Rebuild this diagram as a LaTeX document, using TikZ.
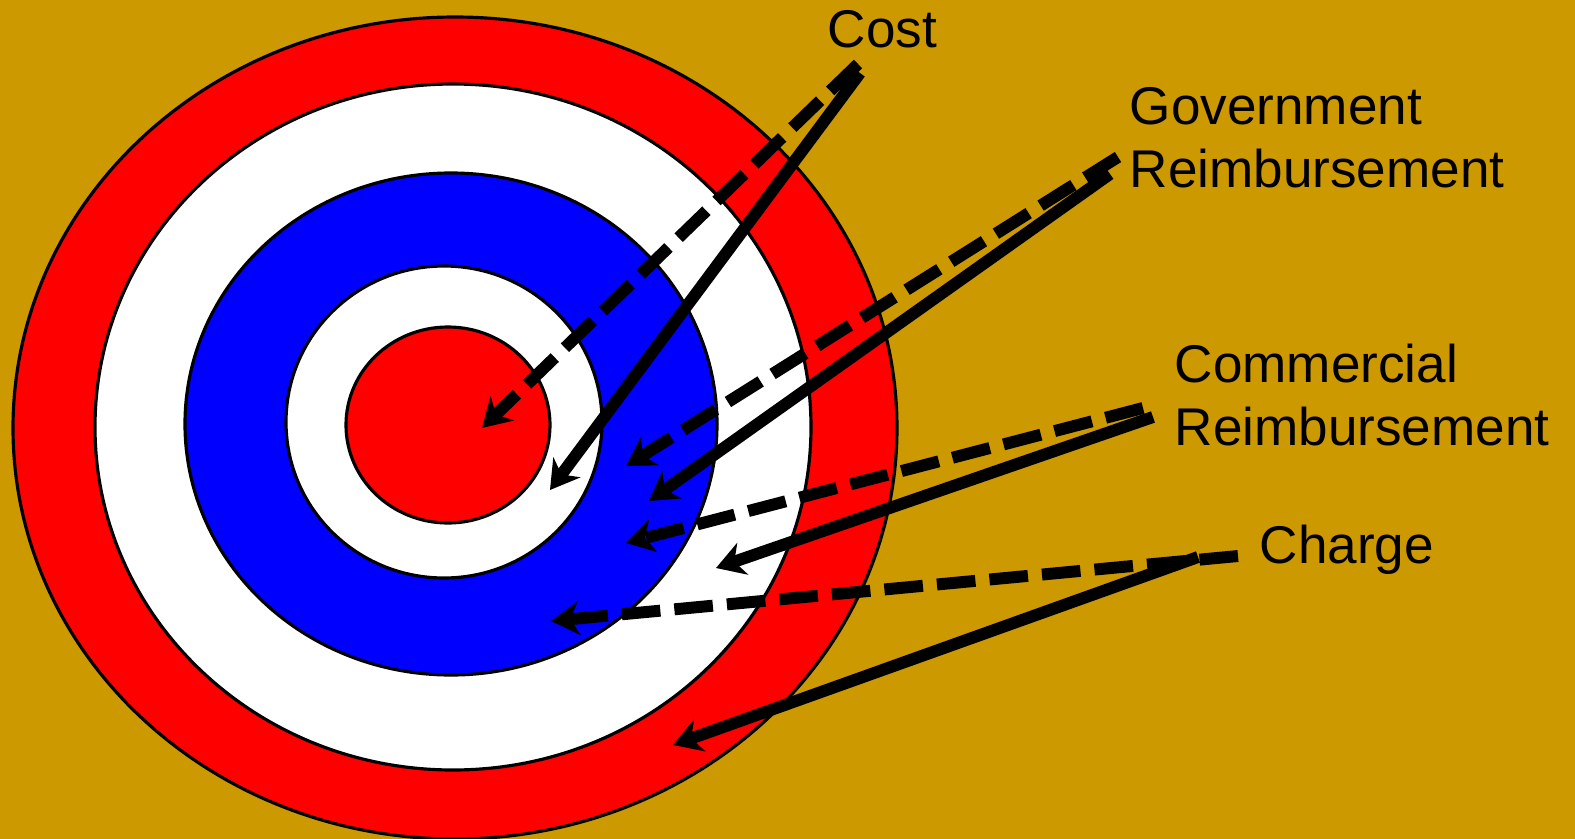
\documentclass[tikz,border=0pt]{standalone}
\usepackage{fontspec}
\setmainfont{Liberation Sans}
\usetikzlibrary{arrows.meta}
\definecolor{bgochre}{HTML}{CC9900}
\definecolor{ringred}{HTML}{FF0000}
\definecolor{ringblue}{HTML}{0000FF}

\begin{document}
\begin{tikzpicture}[
      x=0.01cm, y=-0.01cm,
      every node/.style={font=\fontsize{15.1}{17.9}\selectfont, text=black, inner sep=0pt},
      ring/.style={draw=black, line width=0.9pt},
      hit/.style={line width=3.4pt, -{Stealth[length=8pt, width=9.5pt, inset=2.5pt]}},
      guess/.style={hit, dash pattern=on 11pt off 4pt}
    ]
      \useasboundingbox[fill=bgochre] (0,0) rectangle (1575,839);
      % target rings
      \draw[ring, fill=ringred]  (455,428) ellipse [x radius=442, y radius=411];
      \draw[ring, fill=white]    (453,427) ellipse [x radius=358, y radius=343];
      \draw[ring, fill=ringblue] (451,424) ellipse [x radius=266, y radius=251];
      \draw[ring, fill=white]    (444,422) ellipse [x radius=158, y radius=156];
      \draw[ring, fill=ringred]  (448,425) ellipse [x radius=102, y radius=98];
      % labels
      \node[anchor=base west] (cost) at (827,47) {Cost};
      \node[anchor=base west, align=left] (gov) at (1129,187) {Government\\Reimbursement};
      \node[anchor=base west, align=left] (comm) at (1174,445) {Commercial\\Reimbursement};
      \node[anchor=base west] (charge) at (1259,563) {Charge};
      % arrow ends
      \coordinate (costA) at (858,64);   \coordinate (costAt) at (482,428);
      \coordinate (costB) at (860,73);   \coordinate (costBt) at (550,490);
      \coordinate (govA) at (1118,157);  \coordinate (govAt) at (626,466);
      \coordinate (govB) at (1110,174);  \coordinate (govBt) at (649,501);
      \coordinate (commA) at (1143,408); \coordinate (commAt) at (626,543);
      \coordinate (commB) at (1153,417); \coordinate (commBt) at (716,568);
      \coordinate (chgA) at (1238,556);  \coordinate (chgAt) at (551,621);
      \coordinate (chgB) at (1198,557);  \coordinate (chgBt) at (673,745);
      % arrows
      \foreach \a in {cost,gov,comm,chg} {
        \draw[guess] (\a A) -- (\a At);
        \draw[hit] (\a B) -- (\a Bt);
      }
    \end{tikzpicture}
\end{document}
